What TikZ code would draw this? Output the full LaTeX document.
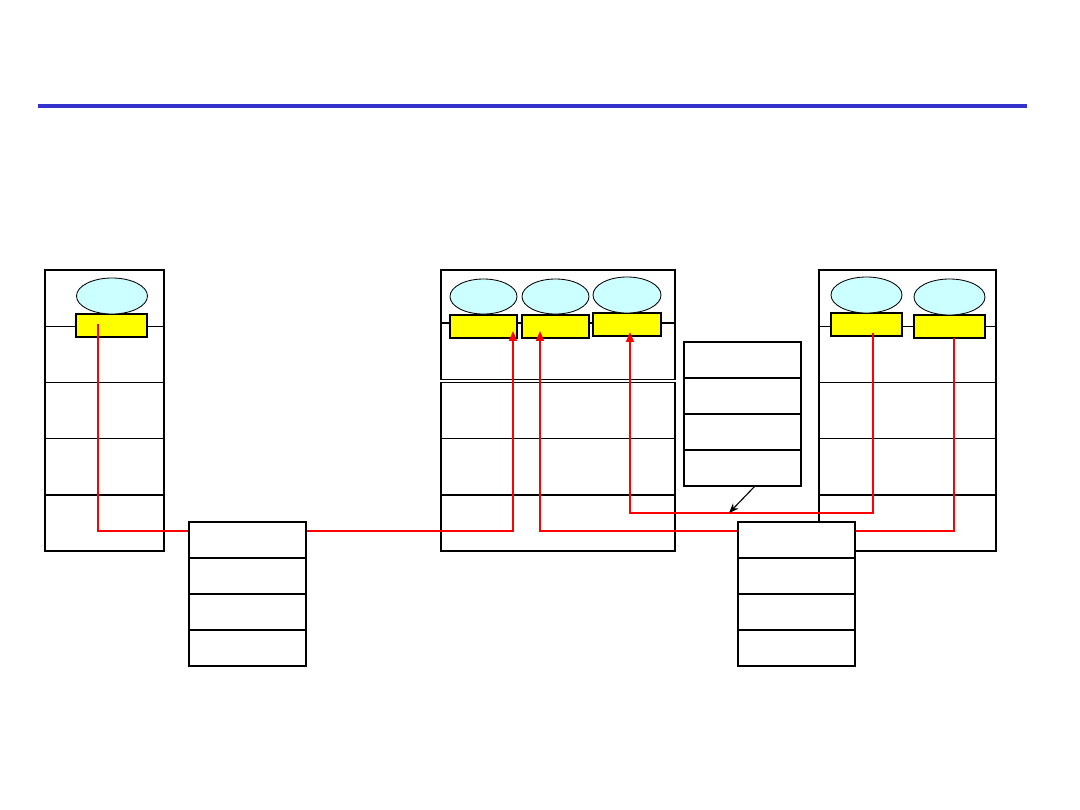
\documentclass[tikz,border=0pt]{standalone}
\usepackage{xcolor}
\usepackage{tikz}
\usetikzlibrary{arrows.meta, positioning, shapes.geometric, calc}
\definecolor{rulebl}{RGB}{51,51,204}
\definecolor{procfill}{RGB}{204,255,255}
\definecolor{portfill}{RGB}{255,255,0}
\definecolor{wirered}{RGB}{255,0,0}

\begin{document}
\begin{tikzpicture}[x=0.025cm, y=-0.025cm, >=Stealth,
  frame/.style={draw, line width=1pt},
  divider/.style={line width=0.7pt},
  heavy/.style={line width=1.3pt},
  proc/.style={ellipse, draw, line width=0.6pt, fill=procfill, minimum width=1.775cm, minimum height=0.9cm, inner sep=0pt},
  port/.style={draw, line width=0.8pt, fill=portfill, minimum width=1.775cm, minimum height=0.575cm, inner sep=0pt},
  slot/.style={draw, line width=1.2pt, fill=white, minimum width=2.925cm, minimum height=0.9cm, inner sep=0pt, outer sep=0pt},
  wire/.style={wirered, line width=1.4pt},
  tip/.style={-{Triangle[length=7pt, width=5.5pt]}}
]
  \useasboundingbox (0,0) rectangle (1080,810);
  \draw[rulebl, line width=3pt] (38,106) -- (1027,106);

  % left host
  \draw[frame] (45,270) rectangle (164,551);
  \foreach \y in {326,382,438}
    \draw[divider] (45,\y) -- (164,\y);
  \draw[heavy] (45,495) -- (164,495);

  % middle host
  \draw[frame] (441,270) rectangle (675,379.5);
  \draw[heavy] (441,323) -- (675,323);
  \draw[frame] (441,382.5) rectangle (675,551);
  \draw[divider] (441,438) -- (675,438);
  \draw[heavy] (441,495) -- (675,495);

  % right host
  \draw[frame] (819,270) rectangle (996,551);
  \foreach \y in {326,382,438}
    \draw[divider] (819,\y) -- (996,\y);
  \draw[heavy] (819,495) -- (996,495);

  % ports and processes
  \node[port] (lport) at (111.5,325.5) {};
  \node[proc] (lproc) at (112,296) {};
  \node[port, minimum width=1.675cm] (m1port) at (483.5,326.5) {};
  \node[port, minimum width=1.675cm] (m2port) at (555.5,326.5) {};
  \node[port, minimum width=1.7cm] (m3port) at (627,324.5) {};
  \node[proc, minimum width=1.675cm, minimum height=0.875cm] (m1proc) at (483.5,296.5) {};
  \node[proc, minimum width=1.675cm, minimum height=0.875cm] (m2proc) at (555.5,296.5) {};
  \node[proc, minimum width=1.7cm] (m3proc) at (627,295) {};
  \node[port] (r1port) at (866.5,324.5) {};
  \node[port] (r2port) at (949.5,326.5) {};
  \node[proc] (r1proc) at (866.5,295) {};
  \node[proc] (r2proc) at (949.5,297) {};

  % wire rows and ends
  \coordinate (rowA) at (0,531);
  \coordinate (rowB) at (0,513);
  \coordinate (s1) at (98,324);
  \coordinate (e1) at (513,331);
  \coordinate (s2) at (954,338);
  \coordinate (e2) at (540,331);
  \coordinate (s3) at (873,333);
  \coordinate (e3) at (630,332);

  \draw[wire, tip] (s1) |- (e1 |- rowA) -- (e1);
  \draw[wire, tip] (s2) |- (e2 |- rowA) -- (e2);
  \draw[wire, tip] (s3) |- (e3 |- rowB) -- (e3);

  % stacks
  \node[slot] (ls1) at (247.5,540) {};
  \node[slot, below=0pt of ls1] (ls2) {};
  \node[slot, below=0pt of ls2] (ls3) {};
  \node[slot, below=0pt of ls3] (ls4) {};

  \node[slot] (rs1) at (796.5,540) {};
  \node[slot, below=0pt of rs1] (rs2) {};
  \node[slot, below=0pt of rs2] (rs3) {};
  \node[slot, below=0pt of rs3] (rs4) {};

  \node[slot] (q1) at (742.5,360) {};
  \node[slot, below=0pt of q1] (q2) {};
  \node[slot, below=0pt of q2] (q3) {};
  \node[slot, below=0pt of q3] (q4) {};

  \coordinate (qout) at ($(q4.south)+(12.5,0)$);
  \coordinate (qin) at (729,513);
  \draw[line width=0.8pt, -{Stealth[length=7pt, width=5.5pt]}] (qout) -- (qin);
\end{tikzpicture}
\end{document}
